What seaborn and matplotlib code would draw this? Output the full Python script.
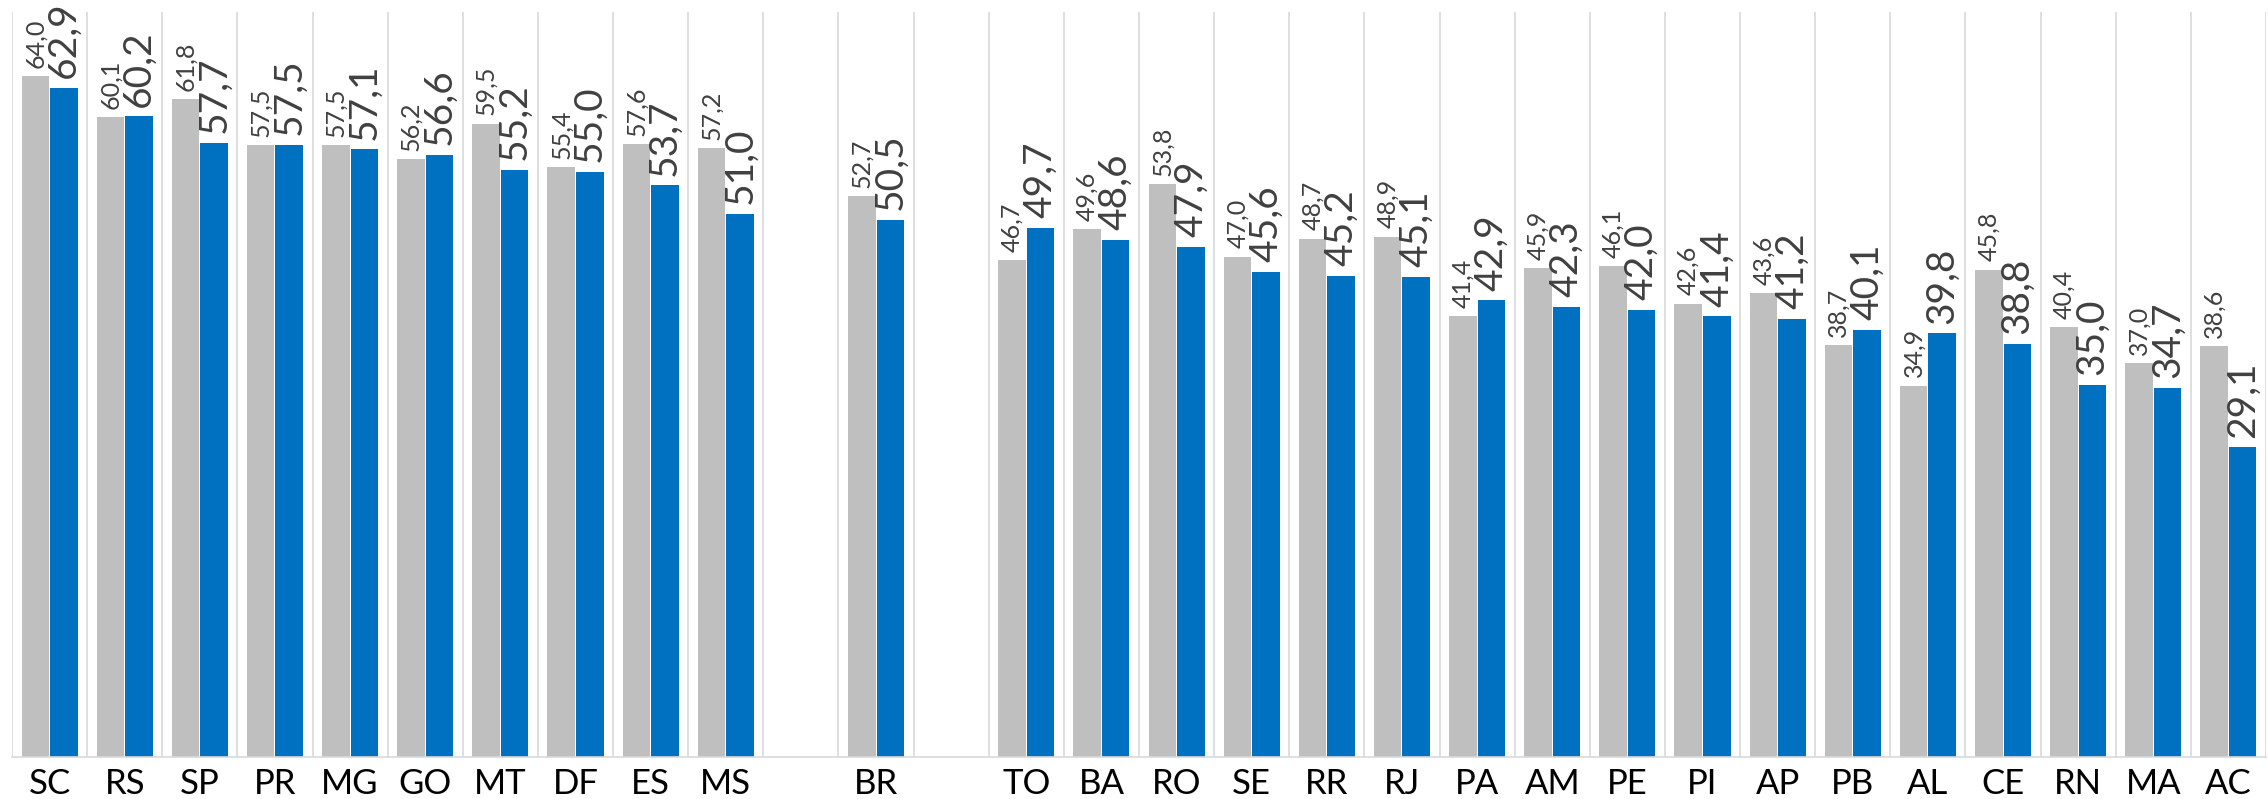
import matplotlib
matplotlib.use("Agg")
import matplotlib.pyplot as plt
import seaborn as sns
import numpy as np
import pandas as pd

# categories (two blank slots separate the BR column)
states = ["SC", "RS", "SP", "PR", "MG", "GO", "MT", "DF", "ES", "MS", " ",
          "BR", "  ",
          "TO", "BA", "RO", "SE", "RR", "RJ", "PA", "AM", "PE", "PI", "AP",
          "PB", "AL", "CE", "RN", "MA", "AC"]
serie_cinza = [64.0, 60.1, 61.8, 57.5, 57.5, 56.2, 59.5, 55.4, 57.6, 57.2, np.nan,
               52.7, np.nan,
               46.7, 49.6, 53.8, 47.0, 48.7, 48.9, 41.4, 45.9, 46.1, 42.6, 43.6,
               38.7, 34.9, 45.8, 40.4, 37.0, 38.6]
serie_azul = [62.9, 60.2, 57.7, 57.5, 57.1, 56.6, 55.2, 55.0, 53.7, 51.0, np.nan,
              50.5, np.nan,
              49.7, 48.6, 47.9, 45.6, 45.2, 45.1, 42.9, 42.3, 42.0, 41.4, 41.2,
              40.1, 39.8, 38.8, 35.0, 34.7, 29.1]

df = pd.DataFrame({
    "uf": states * 2,
    "valor": serie_cinza + serie_azul,
    "serie": ["cinza"] * len(states) + ["azul"] * len(states),
})

sns.set_theme(style="white")
plt.rcParams["font.family"] = ["Lato", "DejaVu Sans"]

fig = plt.figure(figsize=(22.68, 7.99), dpi=100)
ax = fig.add_axes([12 / 2268, 42 / 799, 2254 / 2268, 745 / 799])

sns.barplot(
    data=df, x="uf", y="valor", hue="serie", order=states,
    hue_order=["cinza", "azul"],
    palette={"cinza": "#bfbfbf", "azul": "#0070c0"}, saturation=1,
    width=0.76, gap=0.035, linewidth=0, ax=ax, legend=False,
)

fmt = lambda v: f"{v:.1f}".replace(".", ",")
sizes = [18, 28]
pads = [6, 7]
for cont, fs, pad in zip(ax.containers, sizes, pads):
    ax.bar_label(cont, fmt=fmt, rotation=90, fontsize=fs, padding=pad,
                 color="#404040")

ax.set_ylim(0, 70)
ax.set_xlim(-0.5, len(states) - 0.5)
ax.set_xticks(np.arange(-0.5, len(states)), minor=True)
ax.grid(which="minor", axis="x", color="#d9d9d9", linewidth=1.2)
ax.grid(which="major", axis="y", visible=False)
ax.tick_params(axis="x", which="both", length=0)
ax.tick_params(axis="x", which="major", labelsize=25, pad=8, labelcolor="black")
ax.set_yticks([])
ax.set_xlabel("")
ax.set_ylabel("")
for s in ["left", "top", "right"]:
    ax.spines[s].set_visible(False)
ax.spines["bottom"].set_color("#d9d9d9")
ax.spines["bottom"].set_linewidth(1.2)

fig.savefig("out.png", dpi=100)
